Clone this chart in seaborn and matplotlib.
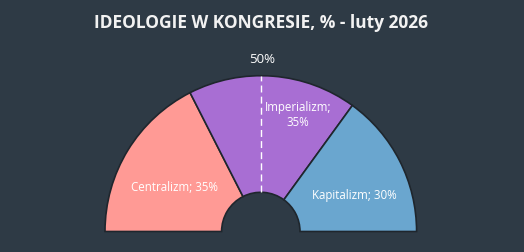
import matplotlib
matplotlib.use("Agg")
import matplotlib.pyplot as plt
import seaborn as sns

# data
ideologies = ["Centralizm", "Imperializm", "Kapitalizm"]
shares = [35, 35, 30]
slice_colors = ["#ff9a95", "#a86ed3", "#6aa6cf"]
title = "IDEOLOGIE W KONGRESIE, % - luty 2026"
majority_label = "50%"

BG = "#2e3a45"
sns.set_theme(style="dark", rc={"figure.facecolor": BG, "axes.facecolor": BG})
plt.rcParams["font.family"] = ["Open Sans", "DejaVu Sans"]

W, H = 524, 252
fig = plt.figure(figsize=(W / 100, H / 100), dpi=100)
ax = fig.add_axes([0, 0, 1, 1])

# work in pixel units: centre of the half-donut and radii
cx, cy = 260.8, 20.5
r_out, r_in = 155.8, 39.2

vals = shares + [sum(shares)]  # hidden lower half
wedges, _ = ax.pie(
    vals,
    colors=slice_colors + [BG],
    startangle=180,
    counterclock=False,
    radius=r_out,
    center=(cx, cy),
    wedgeprops=dict(width=r_out - r_in, edgecolor="#1f262d", linewidth=1.2),
)
wedges[-1].set_visible(False)

# majority line at 50%
ax.plot([cx, cx], [cy + r_in, cy + r_out], color="white", lw=1,
        ls=(0, (5, 3)), zorder=5)
ax.text(cx + 1, cy + r_out + 16, majority_label, color="white",
        ha="center", va="center", fontsize=9.5)

# slice labels
label_pos = [(174.5, 64.3), (298, 137), (354.3, 57)]
label_txt = [
    f"{ideologies[0]}; {shares[0]}%",
    f"{ideologies[1]};\n{shares[1]}%",
    f"{ideologies[2]}; {shares[2]}%",
]
for (x, y), t in zip(label_pos, label_txt):
    ax.text(x, y, t, color="white", ha="center", va="center",
            fontsize=8.3, linespacing=1.3)

ax.text(260.5, 229, title, color="#f2f2f2", ha="center", va="center",
        fontsize=12.5, fontweight="bold")

ax.set_xlim(0, W)
ax.set_ylim(0, H)
ax.set_aspect("equal")
ax.axis("off")

fig.savefig("out.png", dpi=100, facecolor=BG)
